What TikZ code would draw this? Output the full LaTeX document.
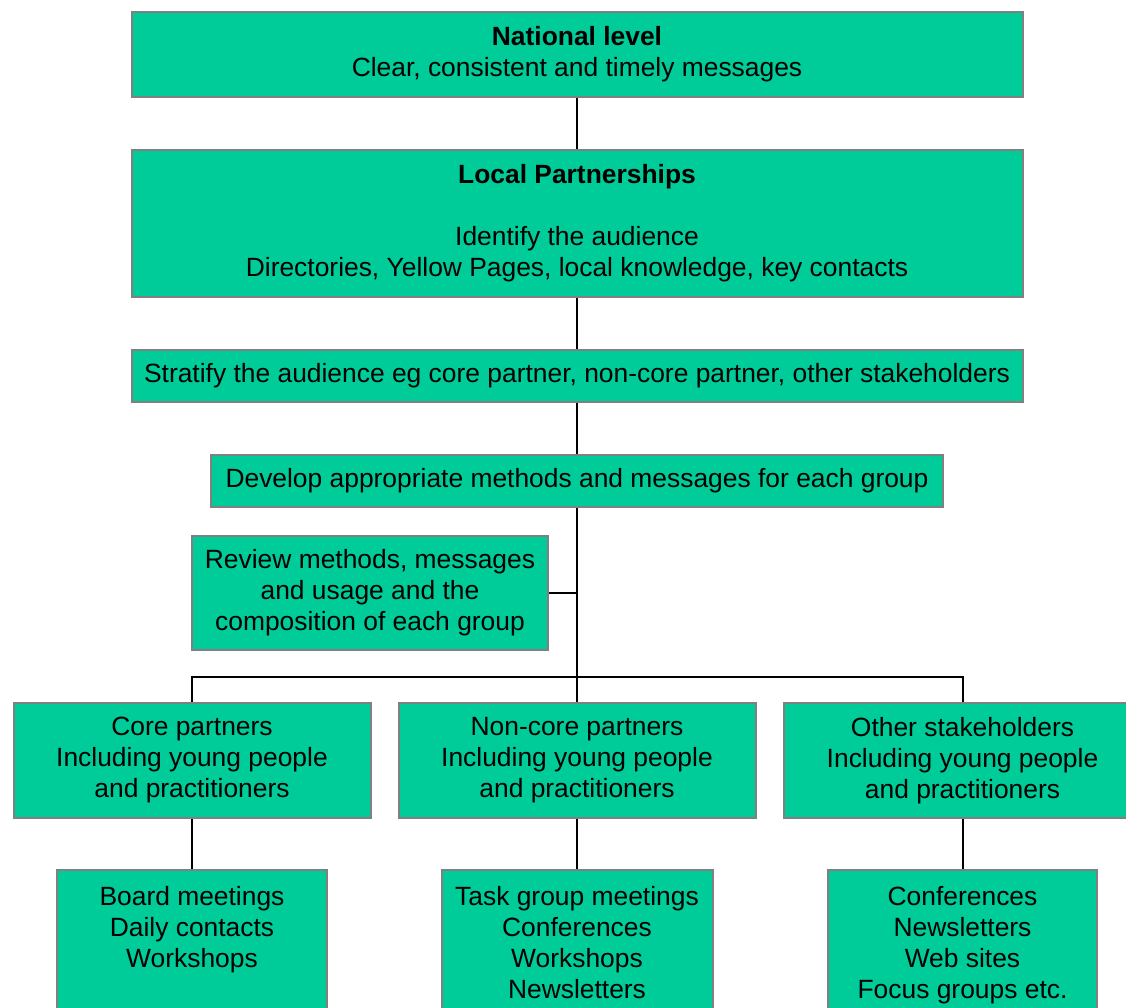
\documentclass[tikz,border=0pt]{standalone}
\usepackage{fontspec}
\setmainfont{Liberation Sans}
\definecolor{boxfill}{RGB}{0,204,153}
\definecolor{boxline}{RGB}{128,128,128}
\begin{document}
\begin{tikzpicture}[x=1pt,y=-1pt,
  box/.style={draw=boxline,line width=2pt,fill=boxfill,inner sep=0pt,align=center,
    font=\fontsize{26.4}{31}\selectfont},
  txt/.style={inner sep=0pt,align=center,anchor=north,font=\fontsize{26.4}{31}\selectfont},
  conn/.style={draw=black,line width=2pt}]
\clip (0,0) rectangle (1126,1008);
\fill[white] (0,0) rectangle (1126,1008);
\node[box,minimum width=891,minimum height=85] (nat) at (577,54.5)
  {\textbf{National level}\\Clear, consistent and timely messages};
\node[box,minimum width=891,minimum height=147] (loc) at (577,223.5)
  {\textbf{Local Partnerships}\\[31pt]Identify the audience\\Directories, Yellow Pages, local knowledge, key contacts};
\node[box,minimum width=891,minimum height=52] (str) at (577,376)
  {Stratify the audience eg core partner, non-core partner, other stakeholders};
\node[box,minimum width=732,minimum height=52] (dev) at (577,481)
  {Develop appropriate methods and messages for each group};
\node[box,minimum width=356,minimum height=114] (rev) at (370,593)
  {Review methods, messages\\and usage and the\\composition of each group};
\node[box,minimum width=357,minimum height=115] (core) at (192,760.5)
  {Core partners\\Including young people\\and practitioners};
\node[box,minimum width=357,minimum height=115] (non) at (577,760.5)
  {Non-core partners\\Including young people\\and practitioners};
\node[box,minimum width=357,minimum height=115] (oth) at (962.5,760.5)
  {Other stakeholders\\Including young people\\and practitioners};
\node[box,minimum width=270,minimum height=170] (bm) at (192,955) {};
\node[box,minimum width=271,minimum height=170] (tg) at (577,955) {};
\node[box,minimum width=269,minimum height=170] (cf) at (962.5,955) {};
\node[txt] (bmt) at (192,886) {Board meetings\\Daily contacts\\Workshops};
\node[txt] (tgt) at (577,886) {Task group meetings\\Conferences\\Workshops\\Newsletters};
\node[txt] (cft) at (962.5,886) {Conferences\\Newsletters\\Web sites\\Focus groups etc.};
\coordinate (j) at (577,677);
\draw[conn] (nat.south) -- (loc.north);
\draw[conn] (loc.south) -- (str.north);
\draw[conn] (str.south) -- (dev.north);
\draw[conn] (dev.south) -- (non.north);
\draw[conn] (rev.east) -- (rev.east -| dev.south);
\draw[conn] (core.north) |- (j) -| (oth.north);
\draw[conn] (core.south) -- (bm.north);
\draw[conn] (non.south) -- (tg.north);
\draw[conn] (oth.south) -- (cf.north);
\end{tikzpicture}
\end{document}
